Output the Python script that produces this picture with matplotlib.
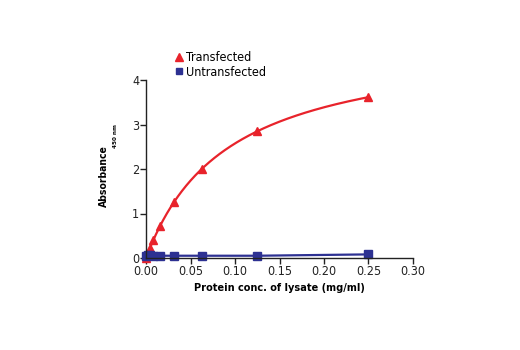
import numpy as np
import matplotlib

matplotlib.use("Agg")
import matplotlib.pyplot as plt

# ── Data ─────────────────────────────────────────────────────────────
conc = [0.0, 0.00195, 0.0039, 0.0078, 0.0156, 0.03125, 0.0625, 0.125, 0.25]
transfected = [0.0, 0.10, 0.22, 0.41, 0.72, 1.25, 1.99, 2.85, 3.62]
untransfected = [0.05, 0.06, 0.06, 0.05, 0.05, 0.05, 0.05, 0.05, 0.08]

x_ticks = [0.00, 0.05, 0.10, 0.15, 0.20, 0.25, 0.30]
x_tick_labels = ["0.00", "0.05", "0.10", "0.15", "0.20", "0.25", "0.30"]
y_ticks = [0, 1, 2, 3, 4]

RED = "#e8232b"
BLUE = "#2d3192"

plt.rcParams["font.family"] = ["DejaVu Sans"]
plt.rcParams["font.stretch"] = "condensed"


def fit_saturation(x, y):
    """Least-squares fit of y = vmax * x / (k + x) by scanning k."""
    x = np.asarray(x)
    y = np.asarray(y)
    best = None
    for k in np.linspace(0.005, 0.5, 2000):
        basis = x / (k + x)
        vmax = (basis @ y) / (basis @ basis)
        err = np.sum((vmax * basis - y) ** 2)
        if best is None or err < best[0]:
            best = (err, vmax, k)
    return best[1], best[2]


vmax, k = fit_saturation(conc, transfected)
xs = np.linspace(0, max(conc), 300)

fig = plt.figure(figsize=(5.2, 3.5), dpi=100)
ax = fig.add_axes([0.281, 0.263, 0.513, 0.508])

ax.plot(xs, vmax * xs / (k + xs), color=RED, linewidth=1.6)
ax.plot(conc, transfected, linestyle="none", marker="^", markersize=6,
        color=RED, label="Transfected")
ax.plot(conc, untransfected, color=BLUE, linewidth=1.6, marker="s",
        markersize=6, label="Untransfected")

ax.set_xlim(0, 0.30)
ax.set_ylim(0, 4)
ax.set_xticks(x_ticks)
ax.set_xticklabels(x_tick_labels)
ax.set_yticks(y_ticks)
ax.tick_params(labelsize=9, length=4, width=1, pad=1, colors="#222222")
for side in ("top", "right"):
    ax.spines[side].set_visible(False)
for side in ("left", "bottom"):
    ax.spines[side].set_linewidth(1.0)
    ax.spines[side].set_color("#222222")
for line in ax.lines:
    line.set_clip_on(False)

ax.set_xlabel("Protein conc. of lysate (mg/ml)", fontsize=7.8,
              fontweight="bold", labelpad=4)
ax.text(-0.157, 0.46, "Absorbance", transform=ax.transAxes, rotation=90,
        ha="center", va="center", fontsize=7.5, fontweight="bold")
ax.text(-0.113, 0.685, "450 nm", transform=ax.transAxes, rotation=90,
        ha="center", va="center", fontsize=4.5, fontweight="bold")

ax.legend(loc="lower left", bbox_to_anchor=(0.09, 0.98), frameon=False,
          handlelength=0.6, handletextpad=0.3, labelspacing=0.1,
          borderaxespad=0.0, fontsize=9)
leg = ax.get_legend()
for h in leg.legend_handles:
    h.set_linestyle("none")
leg.legend_handles[1].set_markersize(4.5)

fig.savefig("out.png", dpi=100)
